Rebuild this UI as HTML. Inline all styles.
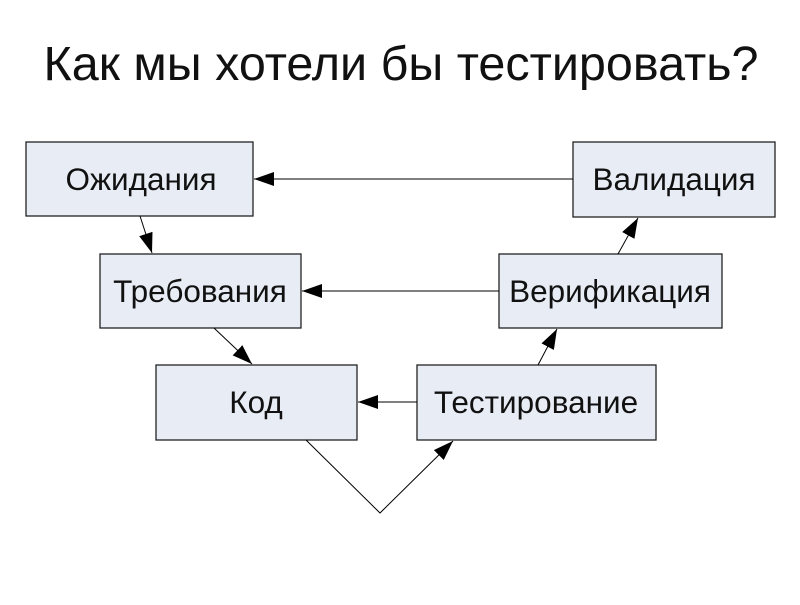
<!DOCTYPE html>
<html><head><meta charset="utf-8"><style>
body{margin:0;background:#fff;width:800px;height:600px;overflow:hidden}
</style></head><body>
<svg width="800" height="600" xmlns="http://www.w3.org/2000/svg" font-family="Liberation Sans, DejaVu Sans, sans-serif">
<defs>
<marker id="b" markerWidth="20" markerHeight="14" refX="20" refY="7" orient="auto" markerUnits="userSpaceOnUse"><path d="M0,0 L20,7 L0,14 z" fill="#000"/></marker></defs>
<text x="401" y="80" font-size="48.5" text-anchor="middle" fill="#111">Как мы хотели бы тестировать?</text>
<g fill="#e8edf5" stroke="#222" stroke-width="1.3">
<rect x="26" y="142" width="227" height="74"/>
<rect x="573" y="142" width="202" height="75"/>
<rect x="100" y="254" width="201" height="74"/>
<rect x="499" y="254" width="223" height="74"/>
<rect x="156" y="365" width="201" height="75"/>
<rect x="417" y="365" width="239" height="75"/>
</g>
<g font-size="31.5" text-anchor="middle" fill="#111">
<text x="141" y="190">Ожидания</text>
<text x="674" y="190">Валидация</text>
<text x="200" y="302">Требования</text>
<text x="610" y="302">Верификация</text>
<text x="256" y="413">Код</text>
<text x="536" y="413">Тестирование</text>
</g>
<g stroke="#000" stroke-width="1" fill="none">
<line x1="573" y1="179" x2="254" y2="179" marker-end="url(#b)"/>
<line x1="499" y1="291" x2="302" y2="291" marker-end="url(#b)"/>
<line x1="417" y1="402" x2="358" y2="402" marker-end="url(#b)"/>
<line x1="140" y1="216" x2="152" y2="253" marker-end="url(#b)"/>
<line x1="214" y1="328" x2="252" y2="364" marker-end="url(#b)"/>
<line x1="538" y1="365" x2="557" y2="329" marker-end="url(#b)"/>
<line x1="618" y1="254" x2="638" y2="218" marker-end="url(#b)"/>
<polyline points="306,440 380,513 453,441" marker-end="url(#b)"/>
</g>
</svg>
</body></html>
